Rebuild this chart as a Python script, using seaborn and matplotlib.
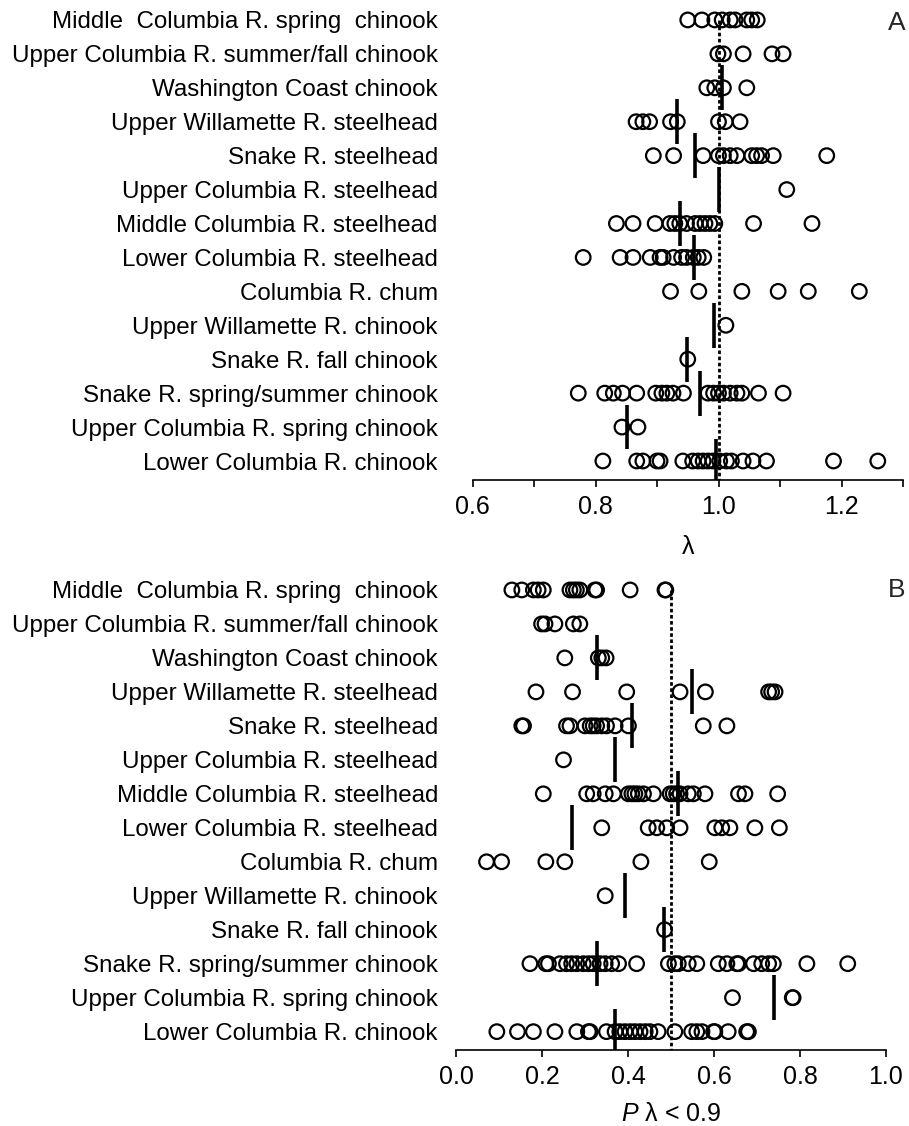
import numpy as np
import pandas as pd
import matplotlib
matplotlib.use("Agg")
import matplotlib.pyplot as plt
import seaborn as sns

stocks = [
    "Middle  Columbia R. spring  chinook",
    "Upper Columbia R. summer/fall chinook",
    "Washington Coast chinook",
    "Upper Willamette R. steelhead",
    "Snake R. steelhead",
    "Upper Columbia R. steelhead",
    "Middle Columbia R. steelhead",
    "Lower Columbia R. steelhead",
    "Columbia R. chum",
    "Upper Willamette R. chinook",
    "Snake R. fall chinook",
    "Snake R. spring/summer chinook",
    "Upper Columbia R. spring chinook",
    "Lower Columbia R. chinook",
]

# panel A: lambda estimates per stock
lam_vals = [
    [0.950, 0.973, 0.994, 1.006, 1.019, 1.027, 1.046, 1.054, 1.063],
    [0.999, 1.008, 1.040, 1.087, 1.105],
    [0.981, 0.994, 1.008, 1.046],
    [0.866, 0.877, 0.888, 0.922, 0.933, 1.000, 1.011, 1.035],
    [0.894, 0.927, 0.975, 1.000, 1.008, 1.019, 1.030, 1.054, 1.062, 1.070, 1.089, 1.176],
    [1.111],
    [0.834, 0.861, 0.897, 0.921, 0.929, 0.937, 0.948, 0.962, 0.970, 0.978, 0.986, 0.994, 1.057, 1.152],
    [0.780, 0.840, 0.861, 0.889, 0.905, 0.910, 0.927, 0.940, 0.948, 0.959, 0.967, 0.976],
    [0.922, 0.968, 1.038, 1.097, 1.146, 1.229],
    [1.012],
    [0.950],
    [0.772, 0.815, 0.829, 0.844, 0.867, 0.898, 0.908, 0.916, 0.926, 0.943, 0.983, 0.992,
     1.000, 1.008, 1.019, 1.030, 1.038, 1.065, 1.105],
    [0.843, 0.869],
    [0.812, 0.867, 0.877, 0.900, 0.905, 0.942, 0.958, 0.967, 0.975, 0.983, 0.991, 1.002,
     1.013, 1.021, 1.040, 1.056, 1.078, 1.187, 1.259],
]
lam_mid = [np.nan, np.nan, 1.005, 0.932, 0.962, 1.0, 0.938, 0.960, np.nan, 0.992, 0.948, 0.970, 0.852, 0.996]

# panel B: probability lambda < 0.9
p_vals = [
    [0.130, 0.153, 0.180, 0.191, 0.203, 0.265, 0.273, 0.280, 0.288, 0.323, 0.327, 0.405, 0.486, 0.488],
    [0.199, 0.207, 0.230, 0.273, 0.288],
    [0.253, 0.331, 0.339, 0.349],
    [0.186, 0.271, 0.397, 0.521, 0.580, 0.727, 0.734, 0.742],
    [0.153, 0.157, 0.257, 0.265, 0.300, 0.312, 0.319, 0.327, 0.339, 0.350, 0.370, 0.401, 0.575, 0.630],
    [0.250],
    [0.203, 0.304, 0.319, 0.347, 0.366, 0.401, 0.409, 0.416, 0.424, 0.436, 0.459, 0.498, 0.505,
     0.513, 0.521, 0.540, 0.552, 0.579, 0.657, 0.672, 0.748],
    [0.339, 0.447, 0.467, 0.490, 0.521, 0.602, 0.618, 0.637, 0.695, 0.752],
    [0.071, 0.106, 0.209, 0.253, 0.430, 0.589],
    [0.347],
    [0.485],
    [0.172, 0.209, 0.215, 0.242, 0.257, 0.269, 0.281, 0.296, 0.308, 0.319, 0.335, 0.347, 0.362,
     0.378, 0.420, 0.494, 0.509, 0.517, 0.540, 0.560, 0.610, 0.630, 0.653, 0.657, 0.692, 0.711,
     0.727, 0.738, 0.816, 0.911],
    [0.643, 0.782, 0.784],
    [0.095, 0.143, 0.180, 0.230, 0.281, 0.308, 0.312, 0.350, 0.370, 0.381, 0.393, 0.405, 0.416,
     0.428, 0.440, 0.451, 0.470, 0.509, 0.548, 0.560, 0.572, 0.599, 0.602, 0.633, 0.676, 0.680],
]
p_mid = [np.nan, np.nan, 0.329, 0.549, 0.409, 0.370, 0.516, 0.269, np.nan, 0.393, 0.483, 0.327, 0.740, 0.370]

sns.set_style("white")
plt.rcParams['font.family'] = ['Liberation Sans', 'DejaVu Sans']
plt.rcParams['mathtext.fontset'] = 'custom'
plt.rcParams['mathtext.it'] = 'Liberation Sans:italic'
plt.rcParams['mathtext.rm'] = 'Liberation Sans'


def long_table(vals):
    rows = []
    for name, v in zip(stocks, vals):
        for x in v:
            rows.append((name, x))
    return pd.DataFrame(rows, columns=["stock", "value"])


def panel(ax, vals, mids, ref, xlim, ticks, labels, xlabel, pad, ybot, lpad):
    df = long_table(vals)
    sns.stripplot(data=df, x="value", y="stock", order=stocks, jitter=False,
                  size=10.5, color="black", facecolor="none", edgecolor="black",
                  linewidth=1.6, ax=ax)
    idx = np.arange(len(stocks))
    mids = np.array(mids)
    ok = ~np.isnan(mids)
    ax.vlines(mids[ok], idx[ok] - 0.66, idx[ok] + 0.66, color="black", lw=2.6, zorder=4)
    ax.vlines(ref, 0, ybot, color="black", lw=2, linestyles=(0, (1.3, 0.9)), zorder=5)
    ax.set_xlim(xlim)
    ax.set_ylim(ybot, -0.44)
    ax.set_xticks(ticks)
    ax.set_xticklabels(labels)
    for s in ["left", "top", "right"]:
        ax.spines[s].set_visible(False)
    ax.spines["bottom"].set_linewidth(1.2)
    ax.spines["bottom"].set_color("black")
    ax.tick_params(axis="x", length=5, width=1.2, direction="out", pad=6,
                   labelsize=18, colors="black", bottom=True)
    ax.tick_params(axis="y", length=0, pad=pad, labelsize=17.4, colors="black")
    ax.set_ylabel("")
    ax.set_xlabel(xlabel, fontsize=18, labelpad=lpad, color="black")


fig = plt.figure(figsize=(9.09, 11.26), dpi=100)
axA = fig.add_axes([472.5 / 909, 1 - 480 / 1126, 430.5 / 909, 475 / 1126])
axB = fig.add_axes([456 / 909, 1 - 1050 / 1126, 430 / 909, 475 / 1126])

panel(axA, lam_vals, lam_mid, 1.0, (0.6, 1.3),
      [0.6, 0.7, 0.8, 0.9, 1.0, 1.1, 1.2, 1.3],
      ["0.6", "", "0.8", "", "1.0", "", "1.2", ""],
      "λ", 25, 13.56, 11)
panel(axB, p_vals, p_mid, 0.5, (0.0, 1.0),
      [0.0, 0.2, 0.4, 0.6, 0.8, 1.0],
      ["0.0", "0.2", "0.4", "0.6", "0.8", "1.0"],
      "$P$ λ < 0.9", 13, 13.54, 9)

fig.text(897 / 909, 1 - 23 / 1126, "A", ha="center", va="center", fontsize=19)
fig.text(897 / 909, 1 - 590 / 1126, "B", ha="center", va="center", fontsize=19)

fig.savefig("out.png", dpi=100)
